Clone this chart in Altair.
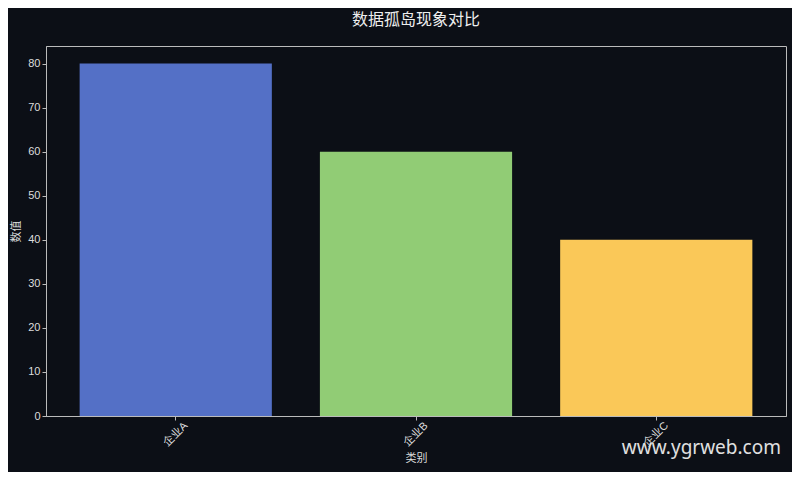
import altair as alt
import pandas as pd

categories = ["企业A", "企业B", "企业C"]
values = [80, 60, 40]
colors = ["#5470c6", "#91cc75", "#fac858"]

df = pd.DataFrame({"类别": categories, "数值": values})

BG = "#0c0f16"
FG = "#dddddd"
FONT = "Liberation Sans, Noto Sans CJK SC, sans-serif"

bars = alt.Chart(df).mark_bar().encode(
    x=alt.X(
        "类别:N",
        sort=categories,
        scale=alt.Scale(paddingInner=0.2, paddingOuter=0.14),
        axis=alt.Axis(
            title="类别",
            labelAngle=315,
            labelAlign="center",
            labelBaseline="middle",
            labelPadding=14,
            tickSize=4,
            titlePadding=4,
        ),
    ),
    y=alt.Y(
        "数值:Q",
        scale=alt.Scale(domain=[0, 84], nice=False),
        axis=alt.Axis(title="数值", values=list(range(0, 81, 10)), tickSize=4, titlePadding=6, grid=False),
    ),
    color=alt.Color("类别:N", scale=alt.Scale(domain=categories, range=colors), legend=None),
)

watermark = alt.Chart(pd.DataFrame({"t": ["www.ygrweb.com"]})).mark_text(
    align="right", baseline="middle", fontSize=19, color="#e0e0e0", font="Noto Sans"
).encode(text="t:N", x=alt.value(735), y=alt.value(402))

chart = (
    alt.layer(bars, watermark)
    .properties(
        width=740,
        height=370,
        title=alt.TitleParams("数据孤岛现象对比", fontSize=16, color="#eeeeee", font=FONT,
                              fontWeight="normal", anchor="middle", offset=18),
        background=BG,
        autosize=alt.AutoSizeParams(type="none"),
        padding={"left": 38, "top": 38, "right": 6, "bottom": 56},
    )
    .configure_view(stroke="#bbbbbb", strokeWidth=1)
    .configure_axis(
        domainColor="#bbbbbb",
        tickColor="#bbbbbb",
        labelColor=FG,
        titleColor=FG,
        labelFont=FONT,
        titleFont=FONT,
        labelFontSize=11,
        titleFontSize=11,
        titleFontWeight="normal",
        grid=False,
    )
)

chart.save("out.html", embed_options={"renderer": "svg", "actions": False})
